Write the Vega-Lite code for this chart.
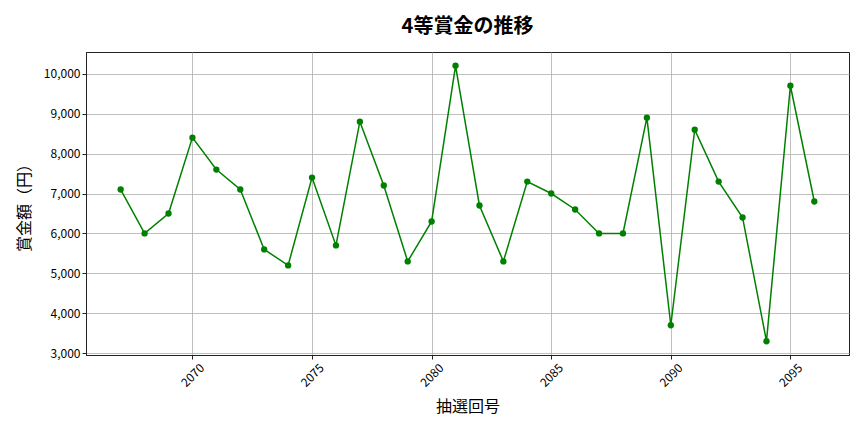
{
  "$schema": "https://vega.github.io/schema/vega-lite/v6.json",
  "autosize": "none",
  "padding": {"left": 86, "top": 52, "right": 15, "bottom": 77},
  "width": 763,
  "height": 303,
  "background": "white",
  "view": {"stroke": "#222222", "strokeWidth": 1},
  "title": {
    "text": "4等賞金の推移",
    "anchor": "middle",
    "fontSize": 20,
    "fontWeight": "bold",
    "color": "#000000",
    "offset": 15
  },
  "data": {
    "values": [
      {"round": 2067, "prize": 7100},
      {"round": 2068, "prize": 6000},
      {"round": 2069, "prize": 6500},
      {"round": 2070, "prize": 8400},
      {"round": 2071, "prize": 7600},
      {"round": 2072, "prize": 7100},
      {"round": 2073, "prize": 5600},
      {"round": 2074, "prize": 5200},
      {"round": 2075, "prize": 7400},
      {"round": 2076, "prize": 5700},
      {"round": 2077, "prize": 8800},
      {"round": 2078, "prize": 7200},
      {"round": 2079, "prize": 5300},
      {"round": 2080, "prize": 6300},
      {"round": 2081, "prize": 10200},
      {"round": 2082, "prize": 6700},
      {"round": 2083, "prize": 5300},
      {"round": 2084, "prize": 7300},
      {"round": 2085, "prize": 7000},
      {"round": 2086, "prize": 6600},
      {"round": 2087, "prize": 6000},
      {"round": 2088, "prize": 6000},
      {"round": 2089, "prize": 8900},
      {"round": 2090, "prize": 3700},
      {"round": 2091, "prize": 8600},
      {"round": 2092, "prize": 7300},
      {"round": 2093, "prize": 6400},
      {"round": 2094, "prize": 3300},
      {"round": 2095, "prize": 9700},
      {"round": 2096, "prize": 6800}
    ]
  },
  "encoding": {
    "x": {
      "field": "round",
      "type": "quantitative",
      "title": "抽選回号",
      "scale": {"domain": [2065.55, 2097.45], "nice": false, "zero": false},
      "axis": {
        "values": [2070, 2075, 2080, 2085, 2090, 2095],
        "format": "d",
        "labelAngle": -45,
        "labelAlign": "center",
        "labelBaseline": "middle",
        "labelPadding": 16,
        "titlePadding": 10
      }
    },
    "y": {
      "field": "prize",
      "type": "quantitative",
      "title": "賞金額（円）",
      "scale": {"domain": [2955, 10545], "nice": false, "zero": false},
      "axis": {
        "values": [3000, 4000, 5000, 6000, 7000, 8000, 9000, 10000],
        "format": ",d",
        "titlePadding": 11
      }
    }
  },
  "layer": [
    {"mark": {"type": "line", "color": "#008000", "strokeWidth": 1.5}},
    {"mark": {"type": "circle", "color": "#008000", "size": 40, "opacity": 1}}
  ],
  "config": {
    "font": "Noto Sans CJK JP",
    "axis": {
      "grid": true,
      "gridColor": "#b0b0b0",
      "gridWidth": 0.8,
      "domainColor": "#222222",
      "tickColor": "#222222",
      "tickSize": 4,
      "labelColor": "#000000",
      "labelFontSize": 12,
      "titleColor": "#000000",
      "titleFontSize": 16,
      "titleFontWeight": "normal"
    }
  }
}
